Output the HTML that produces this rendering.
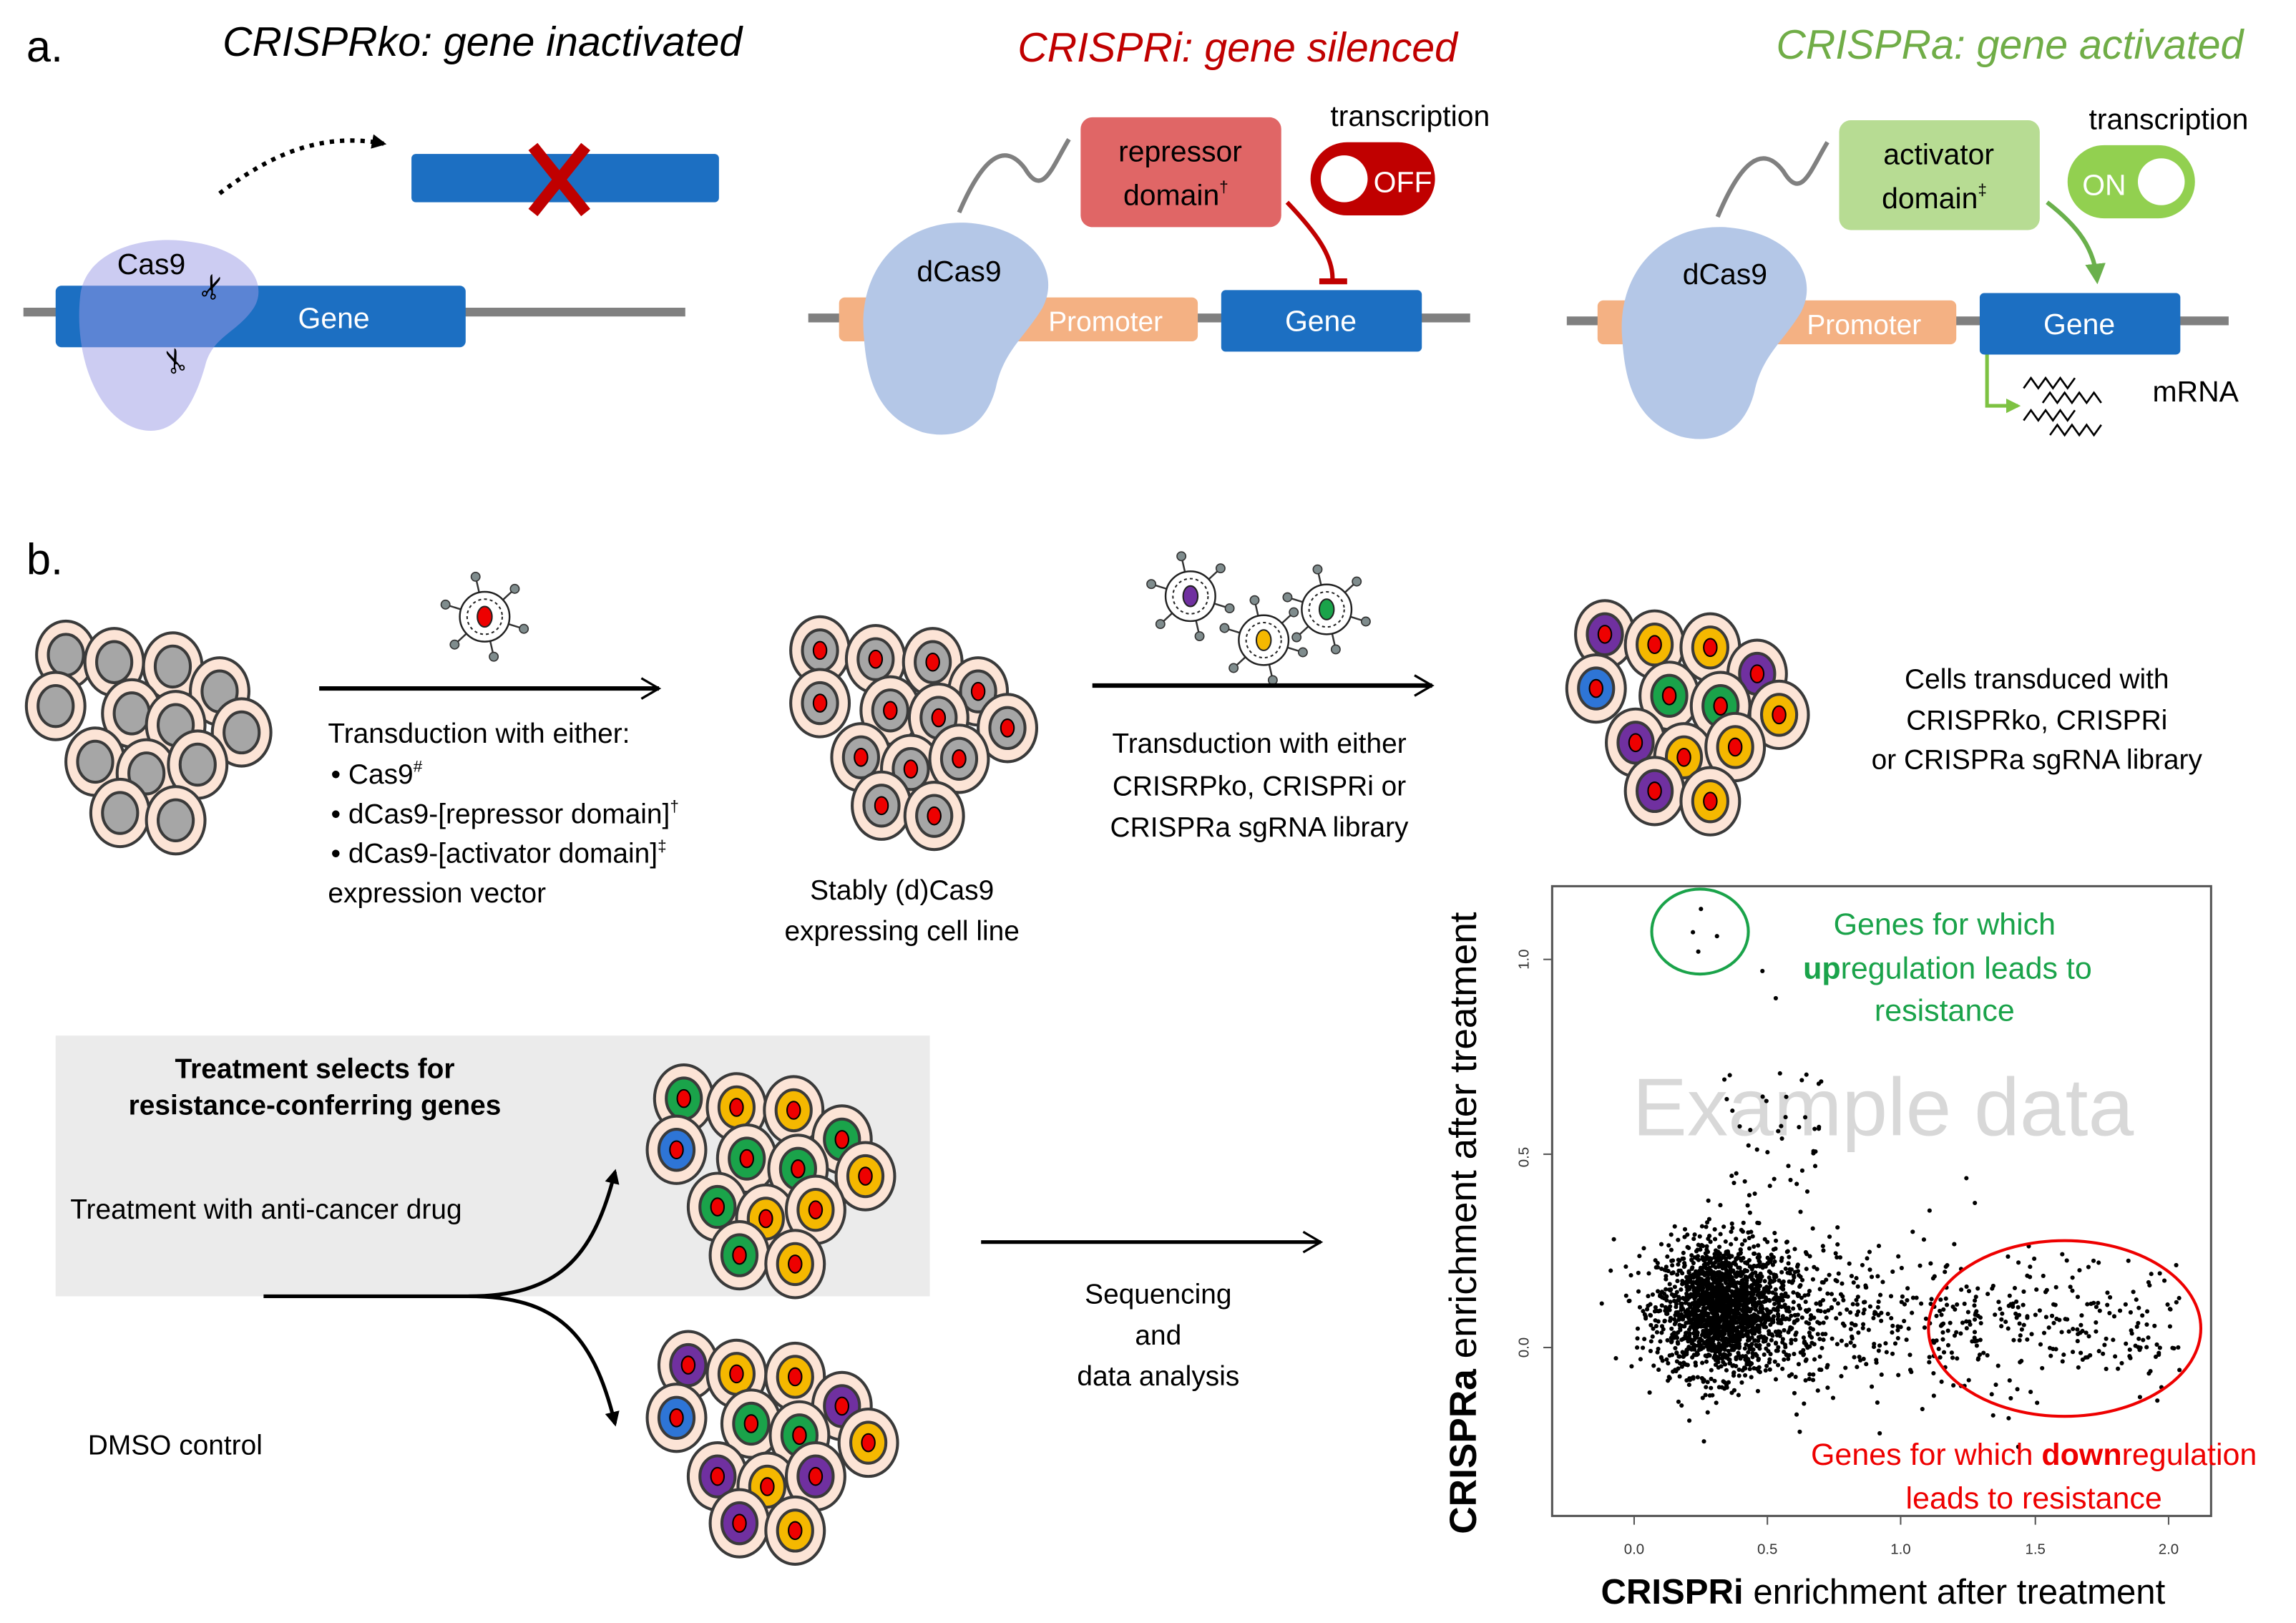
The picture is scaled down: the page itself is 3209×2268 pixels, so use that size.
<!DOCTYPE html>
<html><head><meta charset="utf-8"><style>
html,body{margin:0;padding:0;background:#fff}
svg{display:block}
text{font-family:"Liberation Sans",sans-serif}
</style></head><body>
<svg id="s" width="3209" height="2268" viewBox="0 0 1568 1108" xmlns="http://www.w3.org/2000/svg">
<defs>
<marker id="ab" markerWidth="10" markerHeight="10" refX="8" refY="5" orient="auto" markerUnits="userSpaceOnUse"><path d="M0,0 L10,5 L0,10 z" fill="#000"/></marker>
<marker id="ag" markerWidth="14" markerHeight="14" refX="10" refY="7" orient="auto" markerUnits="userSpaceOnUse"><path d="M0,0 L14,7 L0,14 z" fill="#6ab04c"/></marker>
<marker id="ag2" markerWidth="10" markerHeight="10" refX="8" refY="5" orient="auto" markerUnits="userSpaceOnUse"><path d="M0,0 L10,5 L0,10 z" fill="#7dc242"/></marker>
<marker id="oa" markerWidth="16" markerHeight="16" refX="14" refY="8" orient="auto" markerUnits="userSpaceOnUse"><path d="M2,1 L14,8 L2,15" fill="none" stroke="#000" stroke-width="1.6"/></marker>
</defs>
<!-- panel a -->
<text x="18" y="42" font-size="30">a.</text>
<text x="152" y="38" font-size="28" font-style="italic">CRISPRko: gene inactivated</text>
<text x="695" y="42" font-size="28" font-style="italic" fill="#c00000">CRISPRi: gene silenced</text>
<text x="1213" y="40" font-size="28" font-style="italic" fill="#70ad47">CRISPRa: gene activated</text>

<line x1="16" y1="213" x2="468" y2="213" stroke="#808080" stroke-width="6"/>
<rect x="38" y="195" width="280" height="42" rx="4" fill="#1c6fc2"/>
<text x="228" y="224" font-size="20" fill="#fff" text-anchor="middle">Gene</text>
<g opacity="0.5" fill="#9a9ae6">
<path d="M55,200 C60,170 100,160 130,165 C170,170 185,195 172,212 C160,228 145,230 140,250 C130,285 115,298 95,293 C65,285 50,240 55,200 z"/>
</g>
<text x="80" y="187" font-size="20">Cas9</text>
<text x="138" y="205" font-size="22" transform="rotate(-70 145 198)">✂</text>
<text x="110" y="252" font-size="22" transform="rotate(-110 120 245)">✂</text>
<path d="M150,132 C185,105 220,90 262,98" fill="none" stroke="#000" stroke-width="3" stroke-dasharray="3,4" marker-end="url(#ab)"/>
<rect x="281" y="105" width="210" height="33" rx="3" fill="#1c6fc2"/>
<path d="M364,100 L400,145 M400,100 L364,145" stroke="#c00000" stroke-width="8"/>

<!-- CRISPRi -->
<line x1="552" y1="217" x2="1004" y2="217" stroke="#808080" stroke-width="6"/>
<rect x="573" y="203" width="245" height="30" rx="4" fill="#f4b183"/>
<text x="755" y="226" font-size="19" fill="#fff" text-anchor="middle">Promoter</text>
<rect x="834" y="198" width="137" height="42" rx="3" fill="#1c6fc2"/>
<text x="902" y="226" font-size="20" fill="#fff" text-anchor="middle">Gene</text>
<path d="M590,230 C585,180 620,150 660,152 C705,155 725,185 712,210 C700,230 685,240 680,265 C672,295 650,300 630,295 C600,285 592,260 590,230 z" fill="#b4c7e7"/>
<text x="655" y="192" font-size="20" text-anchor="middle">dCas9</text>
<path d="M655,145 C670,110 685,95 700,115 C712,135 718,115 730,95" fill="none" stroke="#808080" stroke-width="3"/>
<rect x="738" y="80" width="137" height="75" rx="8" fill="#e06666"/>
<text x="806" y="110" font-size="20" text-anchor="middle">repressor</text>
<text x="803" y="140" font-size="20" text-anchor="middle">domain<tspan font-size="11" dy="-9">†</tspan></text>
<text x="963" y="86" font-size="20" text-anchor="middle">transcription</text>
<rect x="895" y="97" width="85" height="50" rx="25" fill="#c00000"/>
<circle cx="918" cy="122" r="16" fill="#fff"/>
<text x="938" y="131" font-size="20" fill="#fff">OFF</text>
<path d="M879,138 C900,160 910,175 910,190" fill="none" stroke="#c00000" stroke-width="3"/>
<line x1="901" y1="192" x2="920" y2="192" stroke="#c00000" stroke-width="4"/>

<!-- CRISPRa -->
<line x1="1070" y1="219" x2="1522" y2="219" stroke="#808080" stroke-width="6"/>
<rect x="1091" y="205" width="245" height="30" rx="4" fill="#f4b183"/>
<text x="1273" y="228" font-size="19" fill="#fff" text-anchor="middle">Promoter</text>
<rect x="1352" y="200" width="137" height="42" rx="3" fill="#1c6fc2"/>
<text x="1420" y="228" font-size="20" fill="#fff" text-anchor="middle">Gene</text>
<path d="M1108,233 C1103,183 1138,153 1178,155 C1223,158 1243,188 1230,213 C1218,233 1203,243 1198,268 C1190,298 1168,303 1148,298 C1118,288 1110,263 1108,233 z" fill="#b4c7e7"/>
<text x="1178" y="194" font-size="20" text-anchor="middle">dCas9</text>
<path d="M1173,148 C1188,112 1203,97 1218,117 C1230,137 1236,117 1248,97" fill="none" stroke="#808080" stroke-width="3"/>
<rect x="1256" y="82" width="137" height="75" rx="8" fill="#b7dc93"/>
<text x="1324" y="112" font-size="20" text-anchor="middle">activator</text>
<text x="1321" y="142" font-size="20" text-anchor="middle">domain<tspan font-size="11" dy="-9">‡</tspan></text>
<text x="1481" y="88" font-size="20" text-anchor="middle">transcription</text>
<rect x="1412" y="99" width="87" height="50" rx="25" fill="#92d050"/>
<circle cx="1476" cy="124" r="16" fill="#fff"/>
<text x="1422" y="133" font-size="20" fill="#fff">ON</text>
<path d="M1398,138 C1420,155 1430,170 1432,190" fill="none" stroke="#6ab04c" stroke-width="3" marker-end="url(#ag)"/>
<path d="M1357,242 L1357,277 L1378,277" fill="none" stroke="#7dc242" stroke-width="2.5" marker-end="url(#ag2)"/>
<g fill="none" stroke="#000" stroke-width="1.3">
<path d="M1382,265 l5,-7 l5,7 l5,-7 l5,7 l5,-7 l5,7 l5,-7"/>
<path d="M1395,275 l5,-7 l5,7 l5,-7 l5,7 l5,-7 l5,7 l5,-7 l5,7"/>
<path d="M1382,287 l5,-7 l5,7 l5,-7 l5,7 l5,-7 l5,7 l5,-7"/>
<path d="M1400,297 l5,-7 l5,7 l5,-7 l5,7 l5,-7 l5,7 l5,-7"/>
</g>
<text x="1470" y="274" font-size="20">mRNA</text>

<!-- panel b -->
<text x="18" y="392" font-size="30">b.</text>
<rect x="38" y="707" width="597" height="178" fill="#ebebeb"/>
<g id="cells"></g>
<line x1="218" y1="470" x2="450" y2="470" stroke="#000" stroke-width="3" marker-end="url(#oa)"/>
<line x1="746" y1="468" x2="978" y2="468" stroke="#000" stroke-width="3" marker-end="url(#oa)"/>
<g font-size="19">
<text x="224" y="507">Transduction with either:</text>
<text x="226" y="535">•   Cas9<tspan font-size="11" dy="-8">#</tspan></text>
<text x="226" y="562">•   dCas9-[repressor domain]<tspan font-size="11" dy="-8">†</tspan></text>
<text x="226" y="589">•   dCas9-[activator domain]<tspan font-size="11" dy="-8">‡</tspan></text>
<text x="224" y="616">expression vector</text>
<text x="616" y="614" text-anchor="middle">Stably (d)Cas9</text>
<text x="616" y="642" text-anchor="middle">expressing cell line</text>
<text x="860" y="514" text-anchor="middle">Transduction with either</text>
<text x="860" y="543" text-anchor="middle">CRISRPko, CRISPRi or</text>
<text x="860" y="571" text-anchor="middle">CRISPRa sgRNA library</text>
<text x="1391" y="470" text-anchor="middle">Cells transduced with</text>
<text x="1391" y="498" text-anchor="middle">CRISPRko, CRISPRi</text>
<text x="1391" y="525" text-anchor="middle">or CRISPRa sgRNA library</text>
</g>
<text x="215" y="736" font-size="19" font-weight="bold" text-anchor="middle">Treatment selects for</text>
<text x="215" y="761" font-size="19" font-weight="bold" text-anchor="middle">resistance-conferring genes</text>
<text x="48" y="832" font-size="19">Treatment with anti-cancer drug</text>
<text x="60" y="993" font-size="19">DMSO control</text>
<path d="M180,885 L320,885 C380,885 405,860 420,800" fill="none" stroke="#000" stroke-width="2.5" marker-end="url(#ab)"/>
<path d="M320,885 C380,885 405,910 420,972" fill="none" stroke="#000" stroke-width="2.5" marker-end="url(#ab)"/>
<line x1="670" y1="848" x2="902" y2="848" stroke="#000" stroke-width="2.5" marker-end="url(#oa)"/>
<text x="791" y="890" font-size="19" text-anchor="middle">Sequencing</text>
<text x="791" y="918" font-size="19" text-anchor="middle">and</text>
<text x="791" y="946" font-size="19" text-anchor="middle">data analysis</text>

<!-- plot -->
<rect x="1060" y="605" width="450" height="430" fill="none" stroke="#555" stroke-width="1.5"/>
<text x="1286" y="775" font-size="56" fill="#d8d8d8" text-anchor="middle">Example data</text>
<g id="pts" fill="#000"></g>
<ellipse cx="1161" cy="636" rx="33" ry="29" fill="none" stroke="#1aa34a" stroke-width="2"/>
<ellipse cx="1410" cy="907" rx="93" ry="60" fill="none" stroke="#e00" stroke-width="2"/>
<g font-size="21" fill="#1aa34a" text-anchor="middle">
<text x="1328" y="638">Genes for which</text>
<text x="1330" y="668"><tspan font-weight="bold">up</tspan>regulation leads to</text>
<text x="1328" y="697">resistance</text>
</g>
<g font-size="21" fill="#e00" text-anchor="middle">
<text x="1389" y="1000">Genes for which <tspan font-weight="bold">down</tspan>regulation</text>
<text x="1389" y="1030">leads to resistance</text>
</g>
<g font-size="10" fill="#333" text-anchor="middle">
<text x="1116" y="1061">0.0</text><text x="1207" y="1061">0.5</text><text x="1298" y="1061">1.0</text><text x="1390" y="1061">1.5</text><text x="1481" y="1061">2.0</text>
<text transform="translate(1044 655) rotate(-90)">1.0</text>
<text transform="translate(1044 790) rotate(-90)">0.5</text>
<text transform="translate(1044 920) rotate(-90)">0.0</text>
</g>
<g stroke="#555" stroke-width="1">
<line x1="1116" y1="1035" x2="1116" y2="1041"/><line x1="1207" y1="1035" x2="1207" y2="1041"/><line x1="1298" y1="1035" x2="1298" y2="1041"/><line x1="1390" y1="1035" x2="1390" y2="1041"/><line x1="1481" y1="1035" x2="1481" y2="1041"/>
<line x1="1054" y1="655" x2="1060" y2="655"/><line x1="1054" y1="788" x2="1060" y2="788"/><line x1="1054" y1="920" x2="1060" y2="920"/>
</g>
<text x="1286" y="1095" font-size="24" text-anchor="middle"><tspan font-weight="bold">CRISPRi</tspan> enrichment after treatment</text>
<text transform="translate(1008 835) rotate(-90)" font-size="26" text-anchor="middle"><tspan font-weight="bold">CRISPRa</tspan> enrichment after treatment</text>
</svg>
<script>
var NS="http://www.w3.org/2000/svg";
var cg=document.getElementById("cells");
function el(t,a,p){var e=document.createElementNS(NS,t);for(var k in a)e.setAttribute(k,a[k]);(p||cg).appendChild(e);return e;}
var C={p:"#7030a0",y:"#f5b800",g:"#1aa34a",b:"#2e75d6",x:"#a6a6a6"};
function cell(x,y,c,dot){el("ellipse",{cx:x,cy:y,rx:20,ry:23,fill:"#fce4d6",stroke:"#3a3a3a","stroke-width":2});
el("ellipse",{cx:x,cy:y,rx:12,ry:14,fill:C[c],stroke:"#3a3a3a","stroke-width":2});
if(dot)el("ellipse",{cx:x,cy:y,rx:4.5,ry:6,fill:"#e00",stroke:"#000","stroke-width":1});}
var g1=[[45,447],[78,452],[118,455],[150,472],[38,482],[90,487],[120,495],[165,500],[65,520],[100,528],[135,522],[82,555],[120,560]];
g1.forEach(function(p){cell(p[0],p[1],"x",false)});
var g2=[[560,444],[598,450],[637,452],[668,472],[560,480],[608,485],[641,490],[688,497],[588,517],[622,525],[655,518],[602,550],[638,557]];
g2.forEach(function(p){cell(p[0],p[1],"x",true)});
var g3=[[1096,433,"p"],[1130,440,"y"],[1168,442,"y"],[1200,460,"p"],[1090,470,"b"],[1140,475,"g"],[1175,482,"g"],[1215,488,"y"],[1117,507,"p"],[1150,517,"y"],[1185,510,"y"],[1130,540,"p"],[1168,547,"y"]];
g3.forEach(function(p){cell(p[0],p[1],p[2],true)});
var g4=[[467,750,"g"],[503,756,"y"],[542,758,"y"],[575,778,"g"],[462,785,"b"],[510,791,"g"],[545,798,"g"],[591,803,"y"],[490,824,"g"],[523,832,"y"],[557,826,"y"],[505,857,"g"],[543,863,"y"]];
g4.forEach(function(p){cell(p[0],p[1],p[2],true)});
var g5=[[470,932,"p"],[503,938,"y"],[543,940,"y"],[575,960,"p"],[462,968,"b"],[513,972,"g"],[546,980,"g"],[593,985,"y"],[490,1008,"p"],[524,1015,"y"],[557,1008,"p"],[505,1040,"p"],[543,1045,"y"]];
g5.forEach(function(p){cell(p[0],p[1],p[2],true)});
function virus(x,y,c){for(var i=0;i<6;i++){var a=i*Math.PI/3+0.3;var x1=x+Math.cos(a)*17,y1=y+Math.sin(a)*17,x2=x+Math.cos(a)*28,y2=y+Math.sin(a)*28;
el("line",{x1:x1,y1:y1,x2:x2,y2:y2,stroke:"#333","stroke-width":1.2});el("circle",{cx:x2,cy:y2,r:3,fill:"#7f8c8d",stroke:"#333","stroke-width":0.8});}
el("circle",{cx:x,cy:y,r:17,fill:"#fff",stroke:"#222","stroke-width":1.2});
el("circle",{cx:x,cy:y,r:12,fill:"none",stroke:"#222","stroke-width":1,"stroke-dasharray":"2,2"});
el("ellipse",{cx:x,cy:y,rx:5,ry:7,fill:c,stroke:"#222","stroke-width":1});}
virus(331,421,"#e00");virus(813,407,"#7030a0");virus(906,416,"#1aa34a");virus(863,437,"#f5b800");
var pg=document.getElementById("pts");var s=12345;function r(){s=(s*1103515245+12345)%2147483648;return s/2147483648;}
function gn(){var u=r()||1e-9,v=r();return Math.sqrt(-2*Math.log(u))*Math.cos(2*Math.PI*v);}
function X(v){return 1116+v*182.5}function Y(v){return 920-v*265}
function dot(a,b){el("circle",{cx:X(a),cy:Y(b),r:1.5},pg);}
for(var i=0;i<1900;i++){dot(0.33+gn()*0.12,0.1+gn()*0.085);}
for(var i=0;i<300;i++){dot(0.55+Math.abs(gn())*0.35,0.08+gn()*0.1);}
for(var i=0;i<230;i++){dot(1.1+r()*0.95,0.05+gn()*0.09);}
for(var i=0;i<50;i++){dot(0.3+r()*0.4,0.3+r()*0.45);}
dot(0.25,1.13);dot(0.22,1.07);dot(0.31,1.06);dot(0.24,1.02);dot(0.48,0.97);dot(0.53,0.9);
</script>
</body></html>
